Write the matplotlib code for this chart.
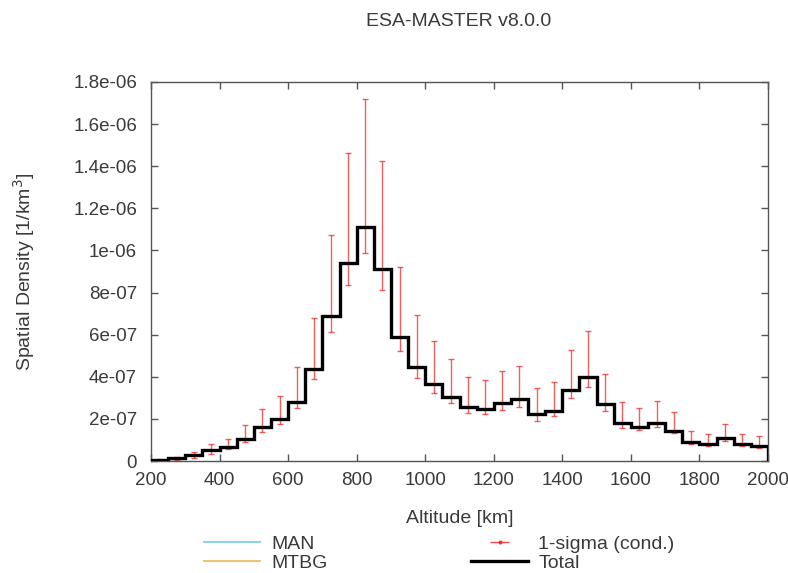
import numpy as np
import matplotlib
matplotlib.use("Agg")
import matplotlib.pyplot as plt
from matplotlib.ticker import FuncFormatter, MultipleLocator

plt.rcParams["font.family"] = ["Liberation Sans", "DejaVu Sans"]

# altitude bins [km]
bin_edges = np.arange(200, 2001, 50)
bin_centers = (bin_edges[:-1] + bin_edges[1:]) / 2

# total spatial density per bin [1/km^3] (x1e-7)
total = np.array([
    0.05, 0.13, 0.28, 0.52, 0.68, 1.04, 1.60, 1.98, 2.82, 4.35,
    6.88, 9.39, 11.13, 9.12, 5.87, 4.48, 3.64, 3.02, 2.58, 2.46,
    2.76, 2.93, 2.22, 2.38, 3.36, 3.99, 2.69, 1.79, 1.62, 1.81,
    1.44, 0.92, 0.79, 1.09, 0.83, 0.73,
]) * 1e-7

# 1-sigma bounds (x1e-7)
sigma_hi = np.array([
    0.10, 0.20, 0.44, 0.81, 1.04, 1.69, 2.45, 3.10, 4.48, 6.78,
    10.73, 14.63, 17.20, 14.23, 9.20, 6.93, 5.71, 4.83, 3.98, 3.87,
    4.28, 4.51, 3.45, 3.75, 5.27, 6.18, 4.15, 2.80, 2.50, 2.85,
    2.31, 1.43, 1.27, 1.74, 1.27, 1.19,
]) * 1e-7
sigma_lo = np.array([
    0.00, 0.05, 0.13, 0.33, 0.57, 0.92, 1.39, 1.74, 2.50, 3.88,
    6.11, 8.36, 9.86, 8.12, 5.24, 3.93, 3.24, 2.77, 2.28, 2.22,
    2.44, 2.57, 1.90, 2.16, 2.98, 3.52, 2.38, 1.55, 1.46, 1.62,
    1.33, 0.83, 0.70, 0.95, 0.70, 0.64,
]) * 1e-7

text_col = "#3a3a3a"
spine_col = "#555555"
fs = 14

fig = plt.figure(figsize=(7.88, 5.73), dpi=100)
ax = fig.add_axes([151 / 788, 1 - 461 / 573, 617 / 788, 379 / 573])

# MAN / MTBG contributions are not visible at this scale, only in the legend
ax.plot([], [], color="#8fd0ea", lw=1.5, label="MAN")
ax.plot([], [], color="#f0c274", lw=1.5, label="MTBG")

yerr = [total - sigma_lo, sigma_hi - total]
ax.errorbar(bin_centers, total, yerr=yerr, fmt="none", ecolor="#ee2a2a",
            elinewidth=1.0, capsize=2.5, capthick=1.0, alpha=0.75, zorder=2)
ax.errorbar([], [], xerr=[], fmt=".", color="#ee2a2a", ms=4,
            elinewidth=1.0, capsize=3, capthick=1.0, alpha=0.85,
            label="1-sigma (cond.)")

ax.stairs(total, bin_edges, baseline=0, color="black", lw=2.4, zorder=3,
          label="Total")

ax.set_xlim(200, 2000)
ax.set_ylim(0, 1.8e-6)
ax.xaxis.set_major_locator(MultipleLocator(200))
ax.yaxis.set_major_locator(MultipleLocator(2e-7))
ax.yaxis.set_major_formatter(FuncFormatter(lambda v, p: "%g" % round(v, 12)))

for s in ax.spines.values():
    s.set_color(spine_col)
    s.set_linewidth(1.0)
ax.tick_params(direction="in", length=5, width=1, color=spine_col,
               top=True, right=True, labelsize=13.5, labelcolor=text_col)
ax.tick_params(axis="y", pad=10)
ax.tick_params(axis="x", pad=8)

ax.set_xlabel("Altitude [km]", fontsize=fs, color=text_col, labelpad=15)
ax.set_ylabel("Spatial Density [1/km$^3$]", fontsize=fs, color=text_col)
ax.yaxis.set_label_coords(-0.185, 0.5)
fig.text(459 / 788, 1 - 21 / 573, "ESA-MASTER v8.0.0", ha="center",
         va="center", fontsize=fs, color=text_col)

handles, labels = ax.get_legend_handles_labels()
order = [labels.index(l) for l in ["MAN", "MTBG", "1-sigma (cond.)", "Total"]]
fig.legend([handles[i] for i in order], [labels[i] for i in order],
           loc="upper left", bbox_to_anchor=(204 / 788, 1 - 535 / 573),
           ncol=2, frameon=False, fontsize=fs, labelcolor=text_col,
           handlelength=2.9, handletextpad=0.55, columnspacing=7.4,
           labelspacing=0.1, borderpad=0, borderaxespad=0)

fig.savefig("out.png", dpi=100)
